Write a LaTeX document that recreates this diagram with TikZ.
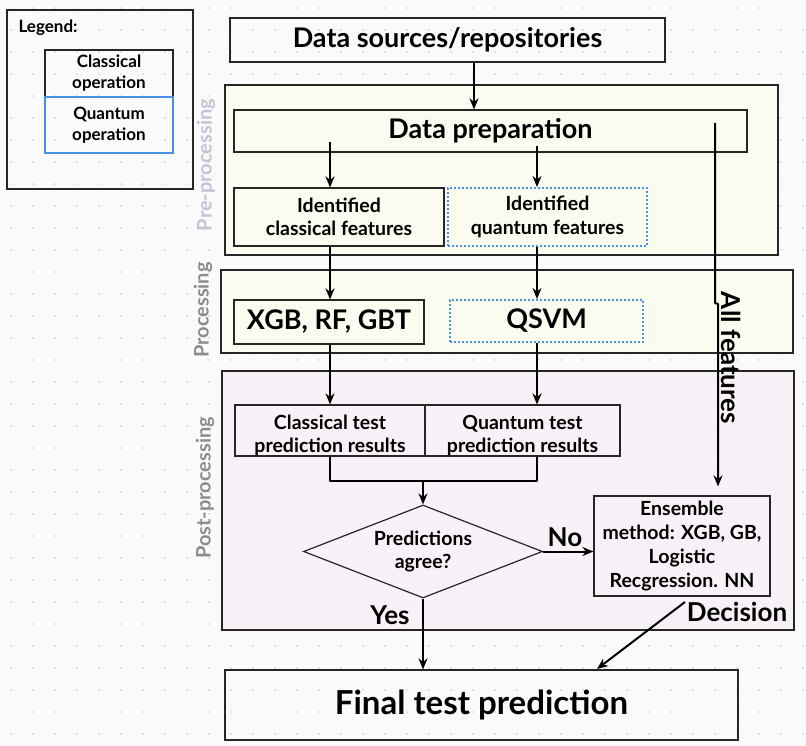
\documentclass[tikz,border=0pt]{standalone}
\usepackage{fontspec}
\setmainfont{Lato}
\usetikzlibrary{shapes.geometric,arrows.meta,calc}
\definecolor{bgc}{HTML}{FAFAFA}
\definecolor{preC}{HTML}{FCFCEE}
\definecolor{postC}{HTML}{F8F0F8}
\definecolor{qblue}{HTML}{4A90E2}
\definecolor{lblgray}{HTML}{8C8C8C}
\definecolor{lbllight}{HTML}{C4C4D6}
\definecolor{dotc}{HTML}{C8C8C8}
\tikzset{
  box/.style={draw=black!85, line width=1.2pt, align=center, inner sep=0pt, font=\bfseries},
  qbox/.style={draw=qblue, line width=2pt, dash pattern=on 2pt off 2pt, align=center, inner sep=0pt, font=\bfseries},
  region/.style={draw=black!85, line width=1.2pt, inner sep=0pt},
  arr/.style={draw=black, line width=2pt, -{Stealth[length=11pt,width=9pt]}},
  ln/.style={draw=black, line width=2pt},
  sidelbl/.style={font=\bfseries\fontsize{20}{22}\selectfont, rotate=90},
  big/.style={font=\bfseries\fontsize{26}{28}\selectfont},
  midtxt/.style={font=\bfseries\fontsize{19.5}{23.5}\selectfont}
}
\begin{document}
\begin{tikzpicture}[x=1pt,y=-1pt]
\useasboundingbox (0,0) rectangle (806,746);
\fill[bgc] (0,0) rectangle (806,746);
\foreach \i in {0,...,36} \foreach \j in {0,...,34}
  \fill[dotc] (11+22*\i,8+22*\j) circle (0.8pt);
% regions
\node[region, fill=preC, fill opacity=0.85, minimum width=553pt, minimum height=170pt] (pre) at (501.5,170) {};
\node[region, fill=preC, fill opacity=0.85, minimum width=572pt, minimum height=83pt] (proc) at (507,311.5) {};
\node[region, fill=postC, fill opacity=0.85, minimum width=572pt, minimum height=259pt] (post) at (508,500.5) {};
\node[sidelbl, text=lbllight] (prel) at (206,165) {Pre-processing};
\node[sidelbl, text=lblgray] (procl) at (203,310) {Processing};
\node[sidelbl, text=lblgray] (postl) at (205,488) {Post-processing};
% legend
\node[region, minimum width=186pt, minimum height=179pt] (legend) at (100,99.5) {};
\node[anchor=west, font=\bfseries\fontsize{17}{19}\selectfont] (legt) at (15,28) {Legend:};
\node[box, minimum width=128pt, minimum height=47pt, font=\bfseries\fontsize{17}{21}\selectfont] (lcl) at (109,73.5) {Classical\\operation};
\node[draw=qblue, line width=2pt, align=center, inner sep=0pt, minimum width=128pt, minimum height=56pt, font=\bfseries\fontsize{17}{21}\selectfont] (lq) at (109,125) {Quantum\\operation};
% boxes
\node[box, minimum width=435pt, minimum height=44pt, font=\bfseries\fontsize{27}{30}\selectfont] (src) at (447.5,40) {Data sources/repositories};
\node[box, minimum width=513pt, minimum height=42pt, font=\bfseries\fontsize{27}{30}\selectfont] (prep) at (490.5,131) {Data preparation};
\node[box, midtxt, minimum width=210pt, minimum height=58pt] (clf) at (339,217) {Identified\\classical features};
\node[qbox, midtxt, minimum width=199pt, minimum height=58pt] (qf) at (547.5,217) {Identified\\quantum features};
\node[box, minimum width=190pt, minimum height=44pt, font=\bfseries\fontsize{27}{30}\selectfont] (xgb) at (329,322) {XGB, RF, GBT};
\node[qbox, minimum width=193pt, minimum height=42pt, font=\bfseries\fontsize{27}{30}\selectfont] (qsvm) at (546.5,321) {QSVM};
\node[box, midtxt, minimum width=190pt, minimum height=51pt] (clt) at (330,430.5) {\raisebox{-11pt}[0pt][0pt]{\begin{tabular}{@{}c@{}}Classical test\\prediction results\end{tabular}}};
\node[box, midtxt, minimum width=195pt, minimum height=51pt] (qt) at (522.5,430.5) {\raisebox{-11pt}[0pt][0pt]{\begin{tabular}{@{}c@{}}Quantum test\\prediction results\end{tabular}}};
\node[box, diamond, aspect=2.57, minimum width=239pt, minimum height=93pt, midtxt] (dia) at (423,551.5) {Predictions\\agree?};
\node[box, minimum width=176pt, minimum height=100pt, font=\bfseries\fontsize{19.5}{24}\selectfont] (ens) at (682,546) {Ensemble\\method: XGB, GB,\\Logistic\\Recgression. NN};
\node[box, minimum width=513pt, minimum height=70pt, font=\bfseries\fontsize{33}{36}\selectfont] (fin) at (481.5,705) {Final test prediction};
% helper coordinates
\coordinate (c474) at (474,0);
\coordinate (cL) at (330,142);
\coordinate (cR) at (537,146);
\coordinate (mL) at (330,481);
\coordinate (mR) at (537,481);
\coordinate (af1) at (715,123);
\coordinate (af2) at (715,303);
\coordinate (af3) at (718,304);
\coordinate (dec1) at (685,602);
\coordinate (dec2) at (597,669);
% connectors
\draw[arr] (c474 |- src.south) -- (c474 |- prep.north);
\draw[arr] (cL) -- (cL |- clf.north);
\draw[arr] (cR) -- (cR |- qf.north);
\draw[arr] (cL |- clf.south) -- (cL |- xgb.north);
\draw[arr] (cR |- qf.south) -- (cR |- qsvm.north);
\draw[arr] (cL |- xgb.south) -- (cL |- clt.north);
\draw[arr] (cR |- qsvm.south) -- (cR |- qt.north);
\draw[ln, line join=round] (cL |- clt.south) -- (mL) -- (mR) -- (cR |- qt.south);
\draw[arr] (dia.north |- mL) -- (dia.north);
\draw[arr, line join=round] (af1) -- (af2) -- (af3) -- (af3 |- ens.north) [shorten >=9pt];
\draw[arr] (dia.east) -- (dia.east -| ens.west);
\draw[arr] (dia.south) -- (dia.south |- fin.north);
\draw[arr] (dec1) -- (dec2);
% labels
\node[big] (no) at (565,537) {No};
\node[big] (yes) at (390,615) {Yes};
\node[big] (decl) at (737,612) {Decision};
\node[font=\bfseries\fontsize{26}{28}\selectfont, rotate=-90] (allf) at (731,358) {All features};
\end{tikzpicture}
\end{document}
